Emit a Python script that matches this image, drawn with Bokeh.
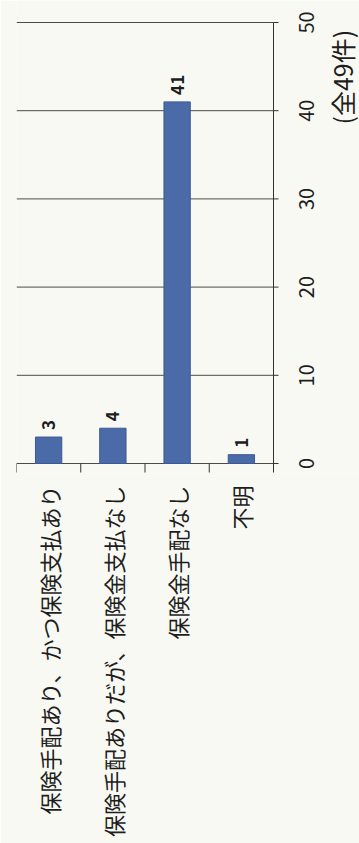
import math
from bokeh.plotting import figure
from bokeh.models import LinearAxis, FixedTicker, Range1d, ColumnDataSource
from bokeh.embed import file_html
from bokeh.resources import INLINE

categories = ["保険手配あり、かつ保険支払あり", "保険手配ありだが、保険金支払なし", "保険金手配なし", "不明"]
counts = [3, 4, 41, 1]
value_ticks = [0, 10, 20, 30, 40, 50]
total_label = "(全49件)"
total_label_pos = 43.8

FONT = "Noto Sans CJK JP"
BG = "#f9f9f3"
INK = "#1e1e1e"
AXIS = "#333333"

W, H = 359, 843
LEFT = 16
PLOT_W = 257          # pixel width of the category area
PLOT_TOP, PLOT_BASE = 22, 463   # pixel rows of value 50 and value 0
BELOW = 10            # frame extends this many px below the baseline
n = len(categories)
vmax = value_ticks[-1]
ppu = (PLOT_BASE - PLOT_TOP) / vmax
x_end = n * (W - LEFT) / PLOT_W
y_start = -BELOW / ppu
y_end = vmax + PLOT_TOP / ppu

xs = [i + 0.5 for i in range(n)]
src = ColumnDataSource(dict(x=xs, top=counts, lab=[str(c) for c in counts]))

p = figure(width=W, height=H, output_backend="svg", toolbar_location=None,
           x_range=Range1d(0, x_end), y_range=Range1d(y_start, y_end),
           min_border_left=LEFT, min_border_right=0, min_border_top=0,
           min_border_bottom=H - PLOT_BASE - BELOW,
           background_fill_color=BG, border_fill_color=BG, outline_line_color=None,
           x_axis_location=None, y_axis_location=None)

p.xgrid.visible = False
p.ygrid.visible = False

# horizontal grid lines (incl. baseline) from value ticks
p.segment(x0=[0] * len(value_ticks), x1=[n] * len(value_ticks),
          y0=value_ticks, y1=value_ticks, line_color="#4a4a4a", line_width=1)

# category boundary ticks below the baseline
p.ray(x=list(range(n + 1)), y=[0] * (n + 1), length=9, length_units="screen",
      angle=-math.pi / 2, line_color=AXIS, line_width=1)

# value axis line on the right of the category area
p.segment(x0=[n], x1=[n], y0=[-8 / ppu], y1=[vmax], line_color=AXIS, line_width=1)
# value axis ticks (outward)
p.ray(x=[n] * len(value_ticks), y=value_ticks, length=5, length_units="screen",
      angle=0, line_color=AXIS, line_width=1)
# value tick labels
p.text(x=[n] * len(value_ticks), y=value_ticks, text=[str(v) for v in value_ticks],
       angle=math.pi / 2, x_offset=33, text_align="center", text_baseline="middle",
       text_font={"value": FONT}, text_font_size="20px", text_color=INK)
# total count note
p.text(x=[n], y=[total_label_pos], text=[total_label],
       angle=math.pi / 2, x_offset=68, text_align="center", text_baseline="middle",
       text_font={"value": FONT}, text_font_size="25px", text_color=INK)

p.vbar(x="x", top="top", width=0.41, source=src, fill_color="#4a6aa8",
       line_color="#3d5a94", line_width=1)

p.text(x="x", y="top", text="lab", source=src, angle=math.pi / 2,
       text_align="left", text_baseline="middle", y_offset=-7,
       text_font={"value": FONT}, text_font_size="17px", text_font_style="bold",
       text_color=INK)

# category labels
ax_cat = LinearAxis(ticker=FixedTicker(ticks=xs),
                    major_label_overrides={x: c for x, c in zip(xs, categories)},
                    major_tick_line_color=None, minor_tick_line_color=None, axis_line_color=None,
                    major_label_orientation=math.pi / 2, major_label_standoff=6,
                    major_label_text_font=FONT, major_label_text_font_size="22px",
                    major_label_text_color=INK)
p.add_layout(ax_cat, "below")

open("out.html", "w").write(file_html(p, INLINE))
